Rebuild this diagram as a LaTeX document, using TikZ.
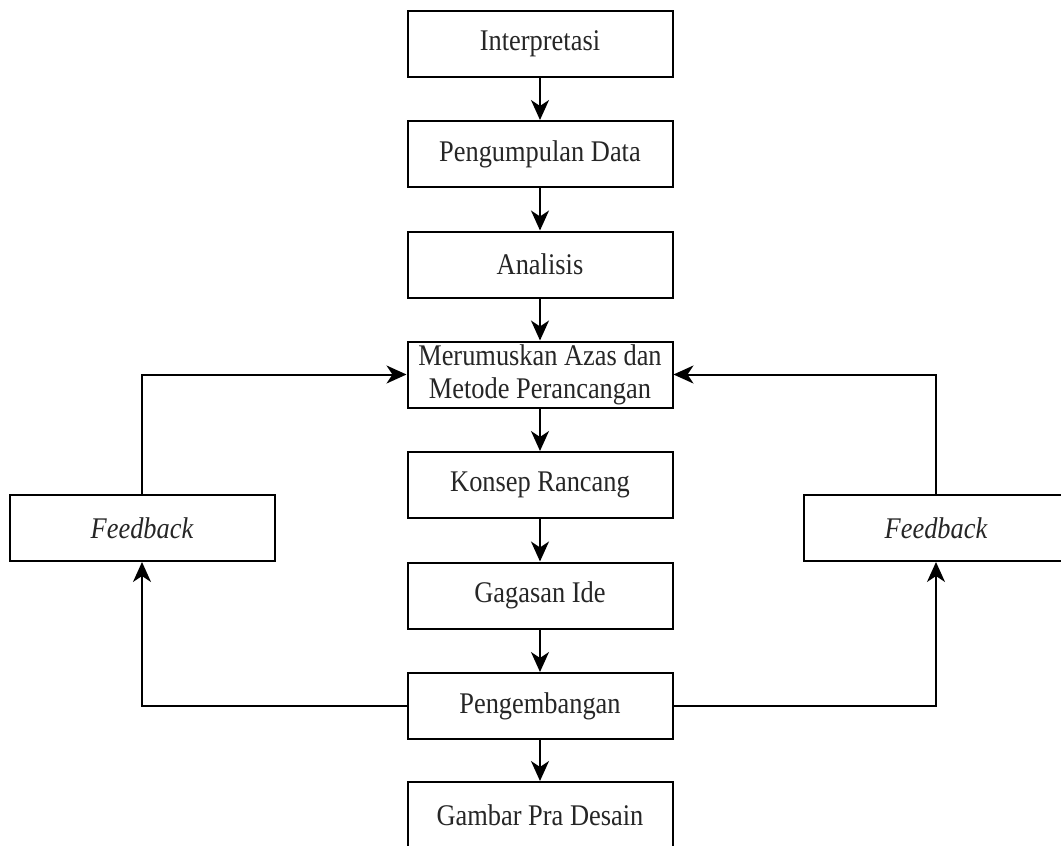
\documentclass[tikz,border=0pt]{standalone}
\usepackage{fontspec}
\setmainfont{Liberation Serif}[FakeStretch=0.88]
\usetikzlibrary{arrows.meta}
\begin{document}
\begin{tikzpicture}[x=1pt,y=-1pt,
  box/.style={draw=black,line width=2pt,minimum width=265pt,minimum height=66pt,inner sep=0pt,align=center,
    font=\fontsize{30}{33}\selectfont,text=black!85},
  conn/.style={line width=2pt,-{Stealth[length=20pt,width=18pt,inset=6pt]}}]
\useasboundingbox (0,0) rectangle (1061,846);
\clip (0,0) rectangle (1061,846);
\node[box] (a) at (540,43.5) {Interpretasi};
\node[box] (b) at (540,154) {Pengumpulan Data};
\node[box] (c) at (540,264.5) {Analisis};
\node[box] (d) at (540,374.5) {Merumuskan Azas dan\\Metode Perancangan};
\node[box] (e) at (540,485) {Konsep Rancang};
\node[box] (f) at (540,595.5) {Gagasan Ide};
\node[box] (g) at (540,706) {Pengembangan};
\node[box] (h) at (540,815) {Gambar Pra Desain};
\node[box] (fl) at (142,528) {\itshape Feedback};
\node[box] (fr) at (936,528) {\itshape Feedback};
\draw[conn] (a) -- (b);
\draw[conn] (b) -- (c);
\draw[conn] (c) -- (d);
\draw[conn] (d) -- (e);
\draw[conn] (e) -- (f);
\draw[conn] (f) -- (g);
\draw[conn] (g) -- (h);
\draw[conn] (g.west) -| (fl.south);
\draw[conn] (g.east) -| (fr.south);
\draw[conn] (fl.north) |- (d.west);
\draw[conn] (fr.north) |- (d.east);
\end{tikzpicture}
\end{document}
